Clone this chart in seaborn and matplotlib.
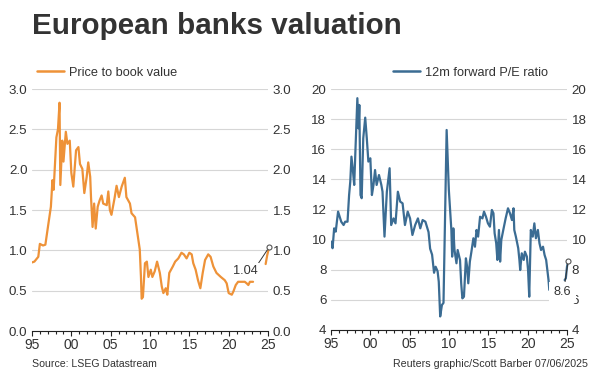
import numpy as np
import pandas as pd
import matplotlib
matplotlib.use('Agg')
import matplotlib.pyplot as plt
import matplotlib.ticker as mticker
from matplotlib.lines import Line2D
import seaborn as sns

# values (decimal years)
pb_years = [1995.0, 1995.3, 1995.8, 1996.0, 1996.4, 1996.7, 1997.1, 1997.4, 1997.6, 1997.75,
            1998.1, 1998.3, 1998.5, 1998.6, 1998.85, 1999.0, 1999.3, 1999.5, 1999.8, 2000.0,
            2000.25, 2000.6, 2000.9, 2001.1, 2001.4, 2001.65, 2001.95, 2002.15, 2002.4, 2002.5,
            2002.7, 2002.9, 2003.1, 2003.35, 2003.6, 2003.85, 2004.05, 2004.5, 2004.7, 2004.9,
            2005.1, 2005.5, 2005.75, 2006.05, 2006.4, 2006.8, 2007.0, 2007.45, 2007.65, 2008.1,
            2008.4, 2008.7, 2008.85, 2008.94, 2009.1, 2009.36, 2009.6, 2009.8, 2010.1, 2010.3,
            2010.6, 2010.9, 2011.25, 2011.5, 2011.7, 2012.0, 2012.2, 2012.45, 2012.9, 2013.2,
            2013.6, 2014.0, 2014.3, 2014.65, 2015.0, 2015.3, 2015.5, 2015.8, 2016.1, 2016.4,
            2016.7, 2017.0, 2017.4, 2017.7, 2018.05, 2018.45, 2019.0, 2019.5, 2019.75, 2020.0,
            2020.4, 2020.6, 2020.9, 2021.2, 2021.65, 2022.05, 2022.3, 2022.5, 2022.7, 2023.1]
pb_values = [0.85, 0.86, 0.92, 1.08, 1.06, 1.07, 1.34, 1.54, 1.87, 1.75,
             2.40, 2.50, 2.83, 1.81, 2.36, 2.10, 2.47, 2.32, 2.36, 1.96,
             1.79, 2.24, 2.28, 2.07, 2.01, 1.71, 1.91, 2.09, 1.91, 1.66,
             1.29, 1.58, 1.27, 1.54, 1.62, 1.68, 1.58, 1.56, 1.73, 1.50,
             1.44, 1.65, 1.80, 1.66, 1.79, 1.90, 1.66, 1.58, 1.46, 1.41,
             1.21, 1.01, 0.67, 0.40, 0.42, 0.84, 0.86, 0.67, 0.76, 0.67,
             0.74, 0.86, 0.72, 0.55, 0.47, 0.53, 0.45, 0.72, 0.80, 0.86,
             0.90, 0.97, 0.95, 0.90, 0.97, 0.95, 0.84, 0.76, 0.63, 0.53,
             0.72, 0.88, 0.95, 0.92, 0.80, 0.72, 0.67, 0.63, 0.59, 0.47,
             0.45, 0.49, 0.57, 0.61, 0.61, 0.61, 0.59, 0.57, 0.61, 0.61]
pb_recent_years = [2024.7, 2024.9, 2025.15]
pb_recent_values = [0.83, 0.94, 1.04]

pe_years = [1995.0, 1995.2, 1995.4, 1995.6, 1995.9, 1996.3, 1996.6, 1996.8, 1997.1, 1997.3,
            1997.45, 1997.6, 1997.8, 1997.95, 1998.1, 1998.35, 1998.5, 1998.6, 1998.75, 1998.9,
            1999.1, 1999.35, 1999.55, 1999.75, 2000.0, 2000.2, 2000.4, 2000.6, 2000.8, 2001.1,
            2001.4, 2001.55, 2001.8, 2002.1, 2002.45, 2002.65, 2002.95, 2003.2, 2003.5, 2003.8,
            2004.1, 2004.4, 2004.75, 2005.05, 2005.35, 2005.7, 2006.05, 2006.35, 2006.65, 2007.0,
            2007.4, 2007.6, 2007.85, 2008.1, 2008.3, 2008.55, 2008.7, 2008.88, 2009.1, 2009.3,
            2009.7, 2009.98, 2010.3, 2010.4, 2010.55, 2010.7, 2010.95, 2011.1, 2011.4, 2011.55,
            2011.7, 2011.9, 2012.15, 2012.3, 2012.45, 2012.65, 2012.85, 2013.1, 2013.3, 2013.5,
            2013.7, 2013.95, 2014.25, 2014.45, 2014.7, 2014.95, 2015.2, 2015.45, 2015.65, 2015.8,
            2016.0, 2016.15, 2016.35, 2016.5, 2016.65, 2016.9, 2017.2, 2017.5, 2017.75, 2018.0,
            2018.2, 2018.3, 2018.5, 2018.8, 2018.95, 2019.05, 2019.25, 2019.5, 2019.65, 2019.9,
            2020.05, 2020.2, 2020.4, 2020.65, 2020.85, 2021.05, 2021.3, 2021.5, 2021.7, 2021.95,
            2022.15, 2022.35, 2022.65, 2022.75]
pe_values = [9.87, 9.43, 10.75, 10.53, 11.86, 11.19, 10.97, 11.19, 11.19, 12.96,
             13.85, 15.51, 14.51, 13.63, 15.84, 19.39, 17.39, 18.94, 12.96, 12.75,
             16.73, 18.10, 16.73, 15.18, 15.40, 12.96, 13.63, 14.62, 13.63, 14.29,
             13.63, 13.18, 10.20, 13.18, 14.74, 10.97, 11.41, 11.08, 13.18, 12.52,
             12.41, 10.97, 11.86, 11.41, 10.31, 10.97, 11.41, 10.75, 11.30, 11.19,
             10.50, 9.40, 9.00, 7.80, 8.20, 7.90, 7.20, 4.90, 5.66, 5.80,
             17.28, 13.30, 10.64, 8.87, 10.75, 9.31, 8.43, 9.31, 8.65, 7.10,
             6.10, 6.21, 8.76, 8.21, 7.10, 8.54, 9.20, 10.09, 9.53, 10.64,
             10.20, 11.52, 11.41, 11.86, 11.52, 11.08, 10.86, 11.97, 11.75, 10.42,
             9.76, 8.65, 10.64, 8.54, 9.98, 10.64, 11.41, 12.08, 11.75, 11.30,
             12.08, 10.64, 10.20, 9.43, 8.65, 7.98, 9.09, 8.65, 9.20, 8.87,
             7.98, 6.21, 10.64, 10.20, 11.08, 10.09, 10.64, 9.76, 9.31, 9.53,
             8.98, 8.65, 7.32, 6.66]
pe_recent_years = [2024.7, 2024.85, 2025.0, 2025.15]
pe_recent_values = [7.32, 7.43, 8.21, 8.60]

xtick_years = [1995, 2000, 2005, 2010, 2015, 2020, 2025]
xtick_labels = ['95', '00', '05', '10', '15', '20', '25']

orange = '#EE9238'
blue = '#3B6C93'
txt = '#333333'

sns.set_theme(style='white')
plt.rcParams['font.family'] = ['Liberation Sans', 'DejaVu Sans']

fig = plt.figure(figsize=(6, 3.76), dpi=100)
ax1 = fig.add_axes([32/600, 1-331/376, 236/600, 242/376])
ax2 = fig.add_axes([331/600, 1-330/376, 236/600, 241/376])


def style_axis(ax, yticks, fmt):
    ax.set_xlim(1995, 2025)
    ax.set_ylim(yticks[0], yticks[-1])
    ax.set_yticks(yticks)
    ax.yaxis.set_major_formatter(mticker.FormatStrFormatter(fmt))
    ax.set_xticks(xtick_years)
    ax.set_xticklabels(xtick_labels)
    ax.xaxis.set_minor_locator(mticker.MultipleLocator(1))
    for s in ['top', 'left', 'right']:
        ax.spines[s].set_visible(False)
    ax.spines['bottom'].set_color('#222222')
    ax.spines['bottom'].set_linewidth(0.8)
    ax.grid(axis='y', color='#d6d6d6', linewidth=0.8)
    ax.grid(axis='x', visible=False)
    ax.tick_params(axis='y', length=0, pad=3.3, labelsize=9.6, labelcolor=txt,
                   labelleft=True, labelright=True)
    ax.tick_params(axis='x', which='major', bottom=True, direction='out', length=3.5,
                   width=0.8, color='#222222', pad=1.5, labelsize=10, labelcolor=txt)
    ax.tick_params(axis='x', which='minor', bottom=True, direction='out', length=2.2,
                   width=0.8, color='#222222')
    for lab in ax.get_xticklabels():
        lab.set_family(['Liberation Sans Narrow', 'Liberation Sans', 'DejaVu Sans'])
    ax.set_xlabel('')
    ax.set_ylabel('')


pb = pd.DataFrame({'year': pb_years, 'value': pb_values})
pb_r = pd.DataFrame({'year': pb_recent_years, 'value': pb_recent_values})
pe = pd.DataFrame({'year': pe_years, 'value': pe_values})
pe_r = pd.DataFrame({'year': pe_recent_years, 'value': pe_recent_values})

sns.lineplot(data=pb, x='year', y='value', ax=ax1, color=orange, linewidth=1.6)
sns.lineplot(data=pb_r, x='year', y='value', ax=ax1, color=orange, linewidth=1.6, clip_on=False)
sns.lineplot(data=pe, x='year', y='value', ax=ax2, color=blue, linewidth=1.6)
sns.lineplot(data=pe_r, x='year', y='value', ax=ax2, color=blue, linewidth=1.6, clip_on=False)

style_axis(ax1, [0, 0.5, 1.0, 1.5, 2.0, 2.5, 3.0], '%.1f')
style_axis(ax2, [4, 6, 8, 10, 12, 14, 16, 18, 20], '%d')

# end-point labels
for ax, x, y, label, tx, ty, rel, pad in [
        (ax1, pb_recent_years[-1], pb_recent_values[-1], '1.04', 2022.07, 0.745, (1.0, 1.0), 0.15),
        (ax2, pe_recent_years[-1], pe_recent_values[-1], '8.6', 2024.4, 6.5, (0.62, 1.0), 0.35)]:
    ax.annotate(label, xy=(x, y), xytext=(tx, ty), ha='center', va='center',
                fontsize=9.2, color=txt, zorder=6, annotation_clip=False,
                bbox=dict(boxstyle='square,pad=%s' % pad, fc='white', ec='none'),
                arrowprops=dict(arrowstyle='-', color='#333333', lw=0.7, relpos=rel,
                                shrinkA=0, shrinkB=2.2))
    ax.plot([x], [y], 'o', ms=3.6, mfc='white', mec='#555555', mew=0.8,
            clip_on=False, zorder=7)

# legends
for ax, label, col, lx in [(ax1, 'Price to book value', orange, 36.7),
                           (ax2, '12m forward P/E ratio', blue, 392.7)]:
    h = Line2D([0], [0], color=col, lw=1.8)
    leg = ax.legend([h], [label], loc='center left', bbox_to_anchor=(lx/600, 1-72.7/376),
                    bbox_transform=fig.transFigure, frameon=False, borderpad=0,
                    borderaxespad=0, handlelength=2.1, handletextpad=0.4, fontsize=9.2)
    for t in leg.get_texts():
        t.set_color(txt)

fig.text(32/600, 1-34.3/376, 'European banks valuation', fontsize=21.3, fontweight='bold',
         color=txt, ha='left', va='baseline')
fig.text(32/600, 1-364/376, 'Source: LSEG Datastream', fontsize=7.6, color=txt,
         ha='left', va='center')
fig.text(587.5/600, 1-364/376, 'Reuters graphic/Scott Barber 07/06/2025', fontsize=7.7,
         color=txt, ha='right', va='center')

fig.savefig('out.png', dpi=100)
